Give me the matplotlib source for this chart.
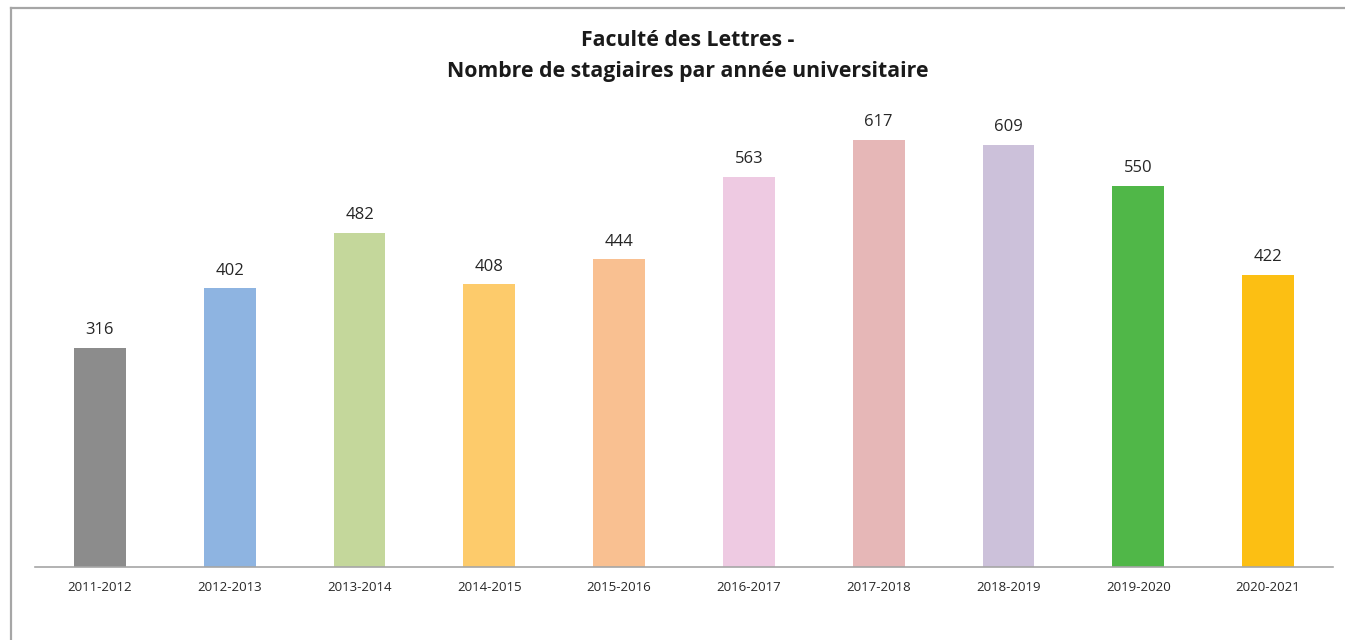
import matplotlib.pyplot as plt
from matplotlib.lines import Line2D

years = ['2011-2012', '2012-2013', '2013-2014', '2014-2015', '2015-2016',
         '2016-2017', '2017-2018', '2018-2019', '2019-2020', '2020-2021']
stagiaires = [316, 402, 482, 408, 444, 563, 617, 609, 550, 422]
colors = ['#8c8c8c', '#8eb4e1', '#c4d79b', '#fdcb6b', '#f9c091',
          '#eecae2', '#e6b7b7', '#ccc1da', '#50b748', '#fcbf13']

plt.rcParams['font.family'] = ['Open Sans', 'DejaVu Sans']

W, H = 1345, 640
fig = plt.figure(figsize=(W / 100, H / 100), dpi=100)

# outer frame (only left and top edges visible)
fig.add_artist(Line2D([10.5 / W, 10.5 / W], [0, 1 - 7.5 / H], color='#a6a6a6', lw=1.6))
fig.add_artist(Line2D([10.5 / W, 1], [1 - 7.5 / H, 1 - 7.5 / H], color='#a6a6a6', lw=1.6))

ax_left, ax_right, ax_bottom, ax_top = 35, 1333, 567, 82
ax = fig.add_axes([ax_left / W, (H - ax_bottom) / H,
                   (ax_right - ax_left) / W, (ax_bottom - ax_top) / H])

x = range(len(years))
bars = ax.bar(x, stagiaires, width=0.4, color=colors)
ax.bar_label(bars, labels=[str(v) for v in stagiaires], padding=7,
             fontsize=12, color='#262626')

ax.set_xlim(-0.5, len(years) - 0.5)
ax.set_ylim(0, 700)
ax.set_xticks(list(x))
ax.set_xticklabels(years, fontsize=9.5, color='#262626')
ax.tick_params(axis='x', length=0, pad=10)
ax.set_yticks([])
for side in ['left', 'right', 'top']:
    ax.spines[side].set_visible(False)
ax.spines['bottom'].set_color('#a6a6a6')
ax.spines['bottom'].set_linewidth(1.2)

fig.text(688 / W, 1 - 40 / H, 'Faculté des Lettres -', ha='center', va='center',
         fontsize=15.3, fontweight='bold', color='#1a1a1a')
fig.text(688 / W, 1 - 71 / H, 'Nombre de stagiaires par année universitaire',
         ha='center', va='center', fontsize=15.3, fontweight='bold', color='#1a1a1a')

fig.savefig('out.png', dpi=100)
